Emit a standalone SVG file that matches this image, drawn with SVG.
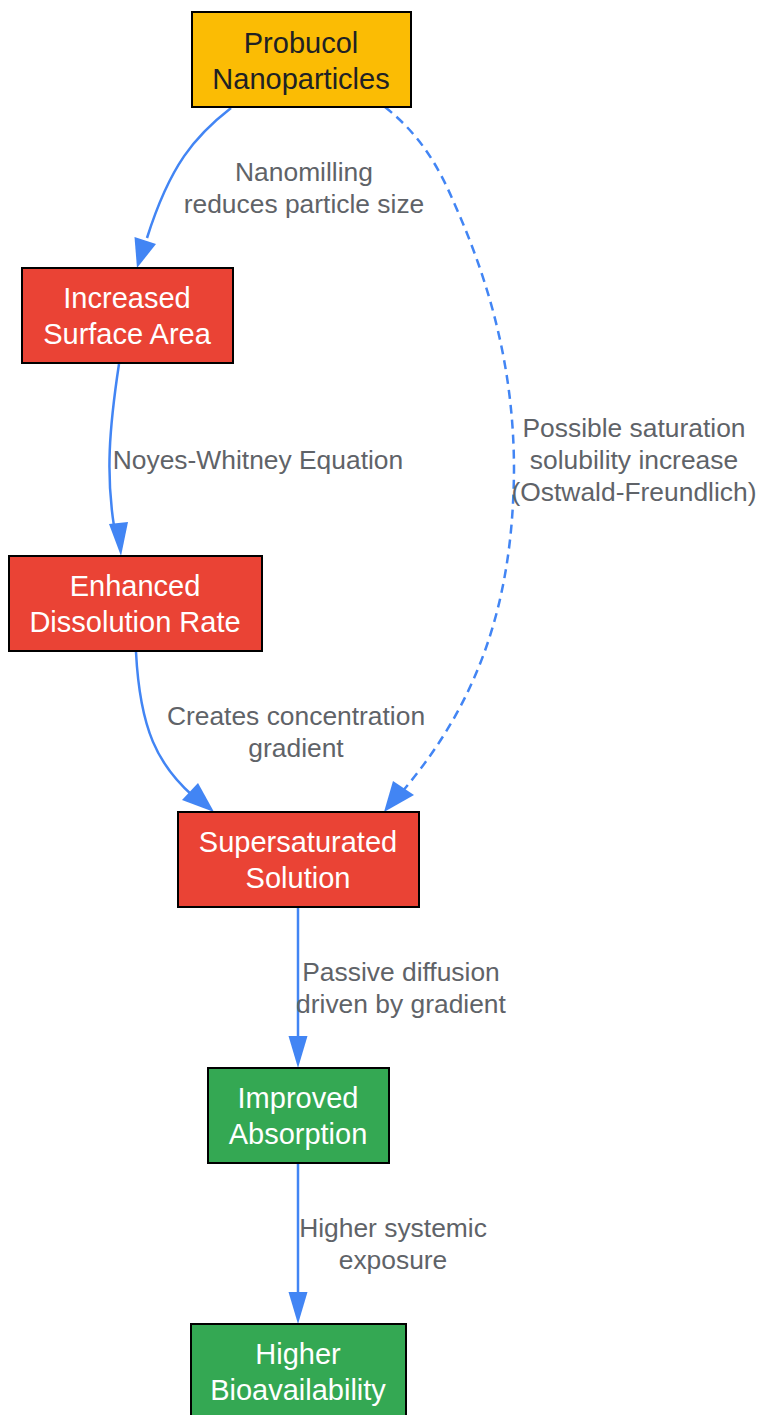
<svg xmlns="http://www.w3.org/2000/svg" width="758" height="1415" viewBox="0 0 758 1415">
<style>
.node rect{stroke:#000;stroke-width:2}
.nt{font-family:"Liberation Sans",Arial,sans-serif;font-size:29px;text-anchor:middle;dominant-baseline:central}
.w{fill:#fff}
.d{fill:#202124}
.yellow{fill:#FBBC04}
.red{fill:#EA4335}
.green{fill:#34A853}
.edge{fill:none;stroke:#4285F4;stroke-width:2.5}
.dash{stroke-dasharray:9,6}
.head{fill:#4285F4}
.lbl{font-family:"Liberation Sans",Arial,sans-serif;font-size:26.4px;fill:#5F6368;text-anchor:middle;dominant-baseline:central}
</style>
<rect width="758" height="1415" fill="#fff"/>
<g id="connectors">
<path class="edge" d="M231,108 C195,136 170,165 147,238"/>
<polygon class="head" points="137,268 134.5,237 156,244"/>
<path class="edge" d="M119,364 C109,430 106,475 114,526"/>
<polygon class="head" points="121,556 109,524 128,522"/>
<path class="edge" d="M136,652 C140,730 158,765 193,796"/>
<polygon class="head" points="214,812 182,800 198,783"/>
<path class="edge dash" d="M385,107 C420,135 438,165 455,205 C495,295 514,380 514,470 C513,600 480,700 402,792"/>
<polygon class="head" points="384,812 393,781 414,795"/>
<path class="edge" d="M298,908 L298,1040"/>
<polygon class="head" points="298,1068 288.5,1036 307.5,1036"/>
<path class="edge" d="M298,1164 L298,1296"/>
<polygon class="head" points="298,1324 288.5,1292 307.5,1292"/>
<text class="lbl" x="304" y="172">Nanomilling</text>
<text class="lbl" x="304" y="204">reduces particle size</text>
<text class="lbl" x="258" y="460">Noyes-Whitney Equation</text>
<text class="lbl" x="296" y="716">Creates concentration</text>
<text class="lbl" x="296" y="748">gradient</text>
<text class="lbl" x="634" y="428">Possible saturation</text>
<text class="lbl" x="634" y="460">solubility increase</text>
<text class="lbl" x="634" y="492">(Ostwald-Freundlich)</text>
<text class="lbl" x="401" y="972">Passive diffusion</text>
<text class="lbl" x="401" y="1004">driven by gradient</text>
<text class="lbl" x="393" y="1228">Higher systemic</text>
<text class="lbl" x="393" y="1260">exposure</text>
</g>
<g id="probucol" class="node">
<rect class="yellow" x="192" y="12" width="219" height="95"/>
<text class="nt d" x="301" y="43">Probucol</text>
<text class="nt d" x="301" y="79">Nanoparticles</text>
</g>
<g id="surface" class="node">
<rect class="red" x="22" y="268" width="211" height="95"/>
<text class="nt w" x="127" y="298">Increased</text>
<text class="nt w" x="127" y="334">Surface Area</text>
</g>
<g id="dissolution" class="node">
<rect class="red" x="9" y="556" width="253" height="95"/>
<text class="nt w" x="135" y="586">Enhanced</text>
<text class="nt w" x="135" y="622">Dissolution Rate</text>
</g>
<g id="supersaturated" class="node">
<rect class="red" x="178" y="812" width="241" height="95"/>
<text class="nt w" x="298" y="842">Supersaturated</text>
<text class="nt w" x="298" y="878">Solution</text>
</g>
<g id="absorption" class="node">
<rect class="green" x="208" y="1068" width="181" height="95"/>
<text class="nt w" x="298" y="1098">Improved</text>
<text class="nt w" x="298" y="1134">Absorption</text>
</g>
<g id="bioavailability" class="node">
<rect class="green" x="191" y="1324" width="215" height="95"/>
<text class="nt w" x="298" y="1354">Higher</text>
<text class="nt w" x="298" y="1390">Bioavailability</text>
</g>
</svg>
